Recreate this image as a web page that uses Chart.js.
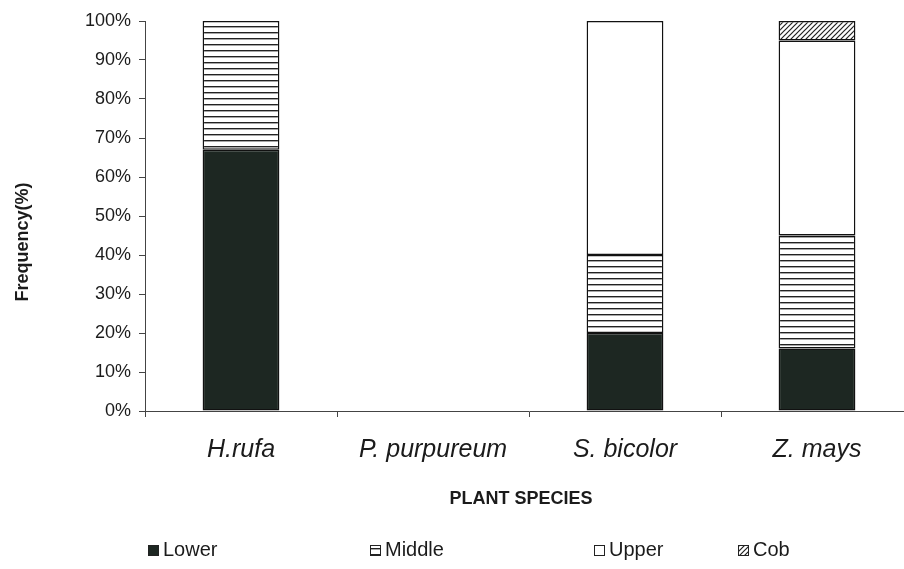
<!DOCTYPE html>
<html>
<head>
<meta charset="utf-8">
<script src="https://cdn.jsdelivr.net/npm/chart.js@4/dist/chart.umd.min.js"></script>
<style>
  html, body { margin: 0; padding: 0; background: #fff; overflow: hidden; }
  /* the original plot runs a little past the right edge */
  #wrap { width: 913px; height: 569px; position: relative; }
</style>
</head>
<body>
<div id="wrap"><canvas id="chart"></canvas></div>
<script>
// data
const species = ["H.rufa", "P. purpureum", "S. bicolor", "Z. mays"];
const lower  = [67, 0, 20, 16];
const middle = [33, 0, 20, 29];
const upper  = [0, 0, 60, 50];
const cob    = [0, 0, 0, 5];
const yTicks = [0, 10, 20, 30, 40, 50, 60, 70, 80, 90, 100];

const FONT = "'Liberation Sans', Arial, sans-serif";
const INK = "#1b1b1b";

// fill patterns
function linesPattern() {
  const c = document.createElement("canvas");
  c.width = 8; c.height = 6;
  const g = c.getContext("2d");
  g.fillStyle = "#fff"; g.fillRect(0, 0, 8, 6);
  g.fillStyle = "#222"; g.fillRect(0, 2, 8, 1.4);
  return g.createPattern(c, "repeat");
}
function hatchPattern() {
  const c = document.createElement("canvas");
  c.width = 5; c.height = 5;
  const g = c.getContext("2d");
  g.fillStyle = "#fff"; g.fillRect(0, 0, 5, 5);
  g.strokeStyle = "#222"; g.lineWidth = 1.2;
  g.beginPath();
  g.moveTo(-1, 6); g.lineTo(6, -1);
  g.moveTo(-1, 1); g.lineTo(1, -1);
  g.moveTo(4, 6); g.lineTo(6, 4);
  g.stroke();
  return g.createPattern(c, "repeat");
}

const fills = ["#1d2722", linesPattern(), "#ffffff", hatchPattern()];
const names = ["Lower", "Middle", "Upper", "Cob"];
const series = [lower, middle, upper, cob];

// axis titles and legend drawn by hand, placed like the original
const extrasPlugin = {
  id: "extras",
  afterDraw(chart) {
    const ctx = chart.ctx;
    ctx.save();
    ctx.fillStyle = INK;
    ctx.textAlign = "center";
    ctx.textBaseline = "middle";
    ctx.font = "bold 18px " + FONT;
    ctx.fillText("PLANT SPECIES", 521, 499);
    ctx.translate(23, 242);
    ctx.rotate(-Math.PI / 2);
    ctx.fillText("Frequency(%)", 0, 0);
    ctx.restore();

    const xs = [148, 370, 594, 738];
    const y = 550;
    ctx.save();
    ctx.font = "20px " + FONT;
    ctx.textBaseline = "middle";
    names.forEach((n, i) => {
      ctx.fillStyle = fills[i];
      ctx.fillRect(xs[i], y - 5, 11, 11);
      ctx.strokeStyle = "#222";
      ctx.lineWidth = 1;
      ctx.strokeRect(xs[i] + 0.5, y - 4.5, 10, 10);
      ctx.fillStyle = INK;
      ctx.fillText(n, xs[i] + 15, y);
    });
    ctx.restore();
  }
};

new Chart(document.getElementById("chart"), {
  type: "bar",
  data: {
    labels: species,
    datasets: series.map((d, i) => ({
      label: names[i],
      data: d,
      backgroundColor: fills[i],
      borderColor: "#111",
      borderWidth: 1.5,
      borderSkipped: false,
      categoryPercentage: 1,
      barPercentage: 0.4
    }))
  },
  options: {
    responsive: true,
    maintainAspectRatio: false,
    animation: false,
    layout: { padding: { left: 8, right: 0, top: 21, bottom: 53 } },
    plugins: {
      legend: { display: false },
      tooltip: { enabled: false }
    },
    scales: {
      x: {
        stacked: true,
        grid: { display: true, offset: true, drawOnChartArea: false, drawTicks: true, tickLength: 6, color: "#444" },
        border: { display: true, color: "#444", width: 1 },
        ticks: { color: INK, padding: 18, font: { family: FONT, size: 25, style: "italic" }, maxRotation: 0 },
        afterFit(scale) { scale.height = 105; }
      },
      y: {
        stacked: true,
        min: 0, max: 100,
        afterBuildTicks(scale) { scale.ticks = yTicks.map(v => ({ value: v })); },
        grid: { display: true, drawOnChartArea: false, drawTicks: true, tickLength: 6, color: "#444" },
        border: { display: true, color: "#444", width: 1 },
        ticks: { color: INK, padding: 8, font: { family: FONT, size: 18 }, callback: v => v + "%" },
        afterFit(scale) { scale.width = 137; }
      }
    }
  },
  plugins: [extrasPlugin]
});
</script>
</body>
</html>
